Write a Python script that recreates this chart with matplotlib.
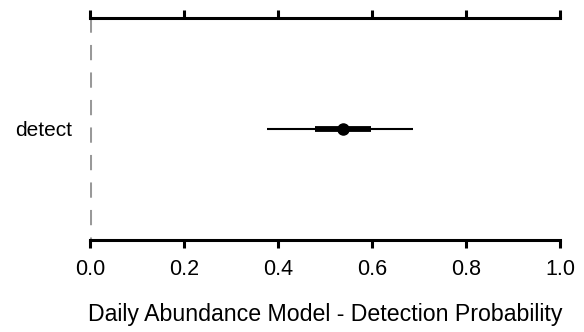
import matplotlib
matplotlib.use("Agg")
import matplotlib.pyplot as plt

# estimates
labels = ["detect"]
means = [0.538]
inner_lo = [0.479]
inner_hi = [0.598]
outer_lo = [0.376]
outer_hi = [0.687]
ticks = [0.0, 0.2, 0.4, 0.6, 0.8, 1.0]

plt.rcParams['font.family'] = ['Liberation Sans', 'DejaVu Sans']

fig = plt.figure(figsize=(5.84, 3.32), dpi=100)
ax = fig.add_axes([90 / 584, 1 - 240 / 332, 470 / 584, 222 / 332])

ax.axvline(0, color='#999999', linestyle=(4, (5, 4)), linewidth=2.2, zorder=1)

ypos = list(range(len(labels)))
for y, m, il, ih, ol, oh in zip(ypos, means, inner_lo, inner_hi, outer_lo, outer_hi):
    ax.plot([ol, oh], [y, y], color='black', linewidth=1.5, solid_capstyle='butt', zorder=2)
    ax.plot([il, ih], [y, y], color='black', linewidth=4.2, solid_capstyle='butt', zorder=3)
    ax.plot(m, y, 'o', color='black', markersize=8, zorder=4)

ax.set_xlim(0, 1)
ax.set_ylim(-1.0, 1.0)
ax.set_xticks(ticks)
ax.set_xticklabels([f"{t:.1f}" for t in ticks])
ax.set_yticks(ypos)
ax.set_yticklabels(labels)

for side in ['left', 'right']:
    ax.spines[side].set_visible(False)
for side in ['top', 'bottom']:
    ax.spines[side].set_linewidth(2.2)

ax.tick_params(axis='x', which='both', top=True, bottom=True, labeltop=False,
               direction='out', length=6, width=2.2, labelsize=15.5, pad=8)
ax.tick_params(axis='y', length=0, labelsize=15, pad=13)

ax.set_xlabel("Daily Abundance Model - Detection Probability", fontsize=16.7, labelpad=16)

fig.savefig("out.png", dpi=100)
